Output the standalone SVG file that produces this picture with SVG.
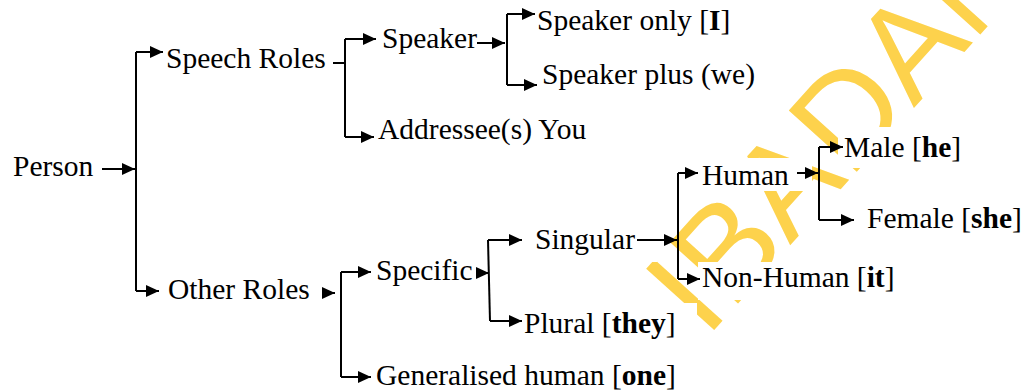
<svg xmlns="http://www.w3.org/2000/svg" width="1027" height="391" viewBox="0 0 1027 391">
<style>
.t{font-family:"Liberation Serif","Times New Roman",serif;font-size:29.5px;fill:#000}
.b{font-weight:bold}
.c{fill:none;stroke:#000;stroke-width:2}
.box{fill:#fff;stroke:none}
.wm{font-family:"Liberation Sans",Arial,sans-serif;font-size:133px;fill:#FDD24C}
</style>
<defs>
<marker id="ah" markerWidth="13" markerHeight="12" refX="13" refY="6" orient="auto" markerUnits="userSpaceOnUse">
<path d="M0,0 L13,6 L0,12 z" fill="#000"/>
</marker>
</defs>
<rect width="1027" height="391" fill="#fff"/>
<g id="watermark">
<text class="wm" transform="translate(706,339) rotate(-48)">IBADAN</text>
</g>
<g id="boxes">
<rect class="box" x="515" y="303" width="182" height="47"/>
<rect class="box" x="695" y="158" width="117" height="33"/>
<rect class="box" x="655" y="160" width="40" height="53"/>
<rect class="box" x="838" y="127" width="137" height="41"/>
<rect class="box" x="698" y="262" width="200" height="38"/>
<rect class="box" x="860" y="200" width="167" height="40"/>
<rect class="box" x="525" y="222" width="132" height="40"/>
</g>
<g id="connectors">
<path class="c" d="M102,169 H135" marker-end="url(#ah)"/>
<path class="c" d="M136,52 V291"/>
<path class="c" d="M136,52 H163" marker-end="url(#ah)"/>
<path class="c" d="M136,291 H159" marker-end="url(#ah)"/>
<path class="c" d="M322,293 H335" marker-end="url(#ah)"/>
<path class="c" d="M341,272 V377"/>
<path class="c" d="M341,272 H371" marker-end="url(#ah)"/>
<path class="c" d="M341,377 H371" marker-end="url(#ah)"/>
<path class="c" d="M333,63 H345"/>
<path class="c" d="M345,39 V137"/>
<path class="c" d="M345,39 H376" marker-end="url(#ah)"/>
<path class="c" d="M345,137 H374" marker-end="url(#ah)"/>
<path class="c" d="M477,43 H505" marker-end="url(#ah)"/>
<path class="c" d="M507,14 V85"/>
<path class="c" d="M507,14 H535" marker-end="url(#ah)"/>
<path class="c" d="M507,85 H537" marker-end="url(#ah)"/>
<path class="c" d="M476,273 H489" marker-end="url(#ah)"/>
<path class="c" d="M488,240 L490,321"/>
<path class="c" d="M488,240 H522" marker-end="url(#ah)"/>
<path class="c" d="M490,321 H522" marker-end="url(#ah)"/>
<path class="c" d="M637,240 H677" marker-end="url(#ah)"/>
<path class="c" d="M678,173 V279"/>
<path class="c" d="M678,173 H698" marker-end="url(#ah)"/>
<path class="c" d="M678,279 H700" marker-end="url(#ah)"/>
<path class="c" d="M797,173 H818" marker-end="url(#ah)"/>
<path class="c" d="M819,147 V220"/>
<path class="c" d="M819,147 H843" marker-end="url(#ah)"/>
<path class="c" d="M819,220 H854" marker-end="url(#ah)"/>
</g>
<g id="n-person"><text class="t" x="13" y="176">Person</text></g>
<g id="n-speech"><text class="t" x="166" y="68">Speech Roles</text></g>
<g id="n-other"><text class="t" x="168" y="299">Other Roles</text></g>
<g id="n-speaker"><text class="t" x="382" y="48">Speaker</text></g>
<g id="n-addressee"><text class="t" x="378" y="139">Addressee(s) You</text></g>
<g id="n-speakeronly"><text class="t" x="537" y="30">Speaker only [<tspan class="b">I</tspan>]</text></g>
<g id="n-speakerplus"><text class="t" x="542" y="84">Speaker plus (we)</text></g>
<g id="n-specific"><text class="t" x="376" y="280">Specific</text></g>
<g id="n-generalised"><text class="t" x="376" y="385">Generalised human [<tspan class="b">one</tspan>]</text></g>
<g id="n-singular"><text class="t" x="535" y="249">Singular</text></g>
<g id="n-plural"><text class="t" x="524" y="333">Plural [<tspan class="b">they</tspan>]</text></g>
<g id="n-human"><text class="t" x="702" y="185">Human</text></g>
<g id="n-nonhuman"><text class="t" x="702" y="287">Non-Human [<tspan class="b">it</tspan>]</text></g>
<g id="n-male"><text class="t" x="844" y="157">Male [<tspan class="b">he</tspan>]</text></g>
<g id="n-female"><text class="t" x="867" y="228">Female [<tspan class="b">she</tspan>]</text></g>
</svg>
